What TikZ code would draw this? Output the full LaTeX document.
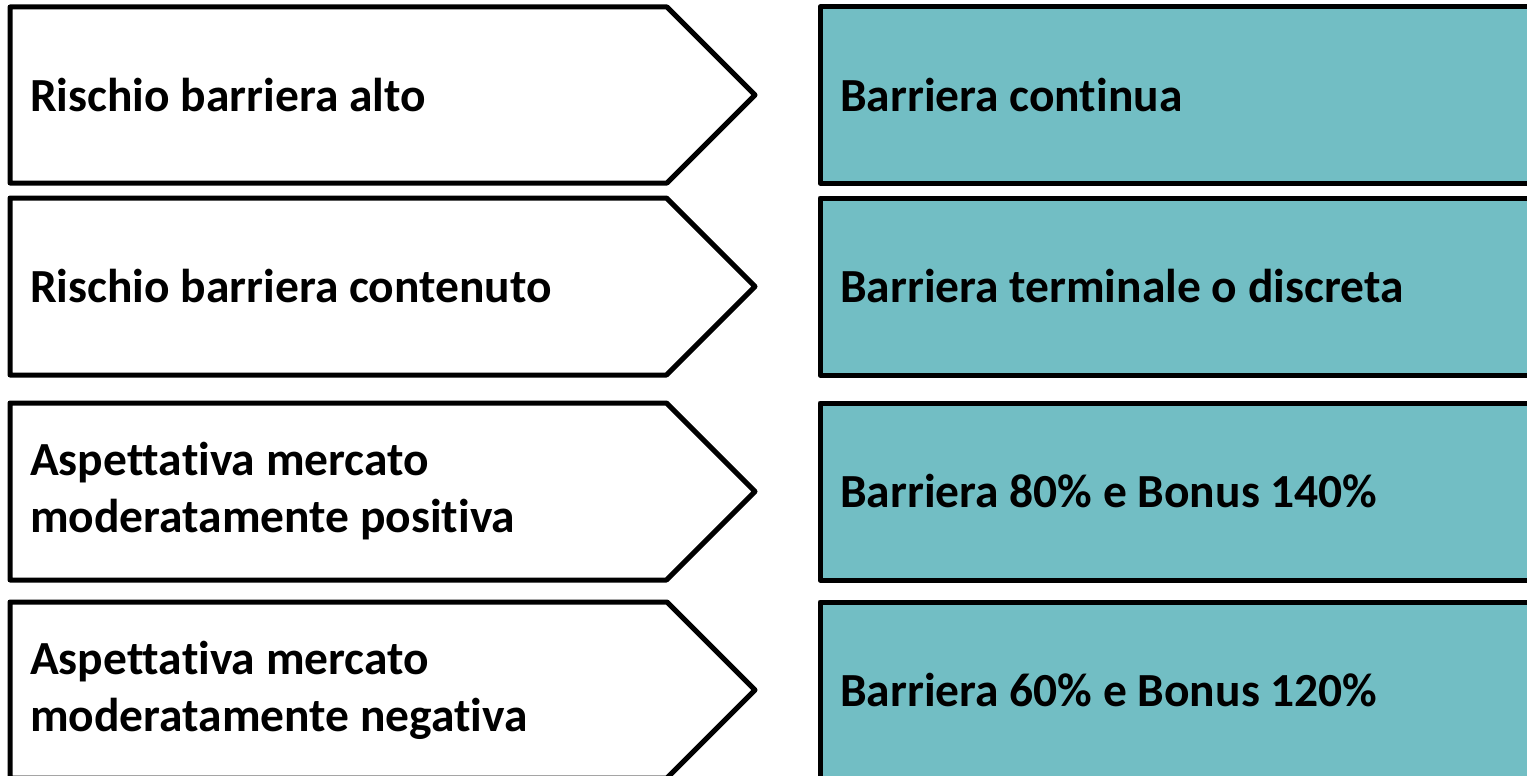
\documentclass[tikz,border=0pt]{standalone}
\usepackage{fontspec}
\setmainfont[Ligatures={NoCommon}]{Carlito}
\definecolor{teal1}{RGB}{114,190,196}
\tikzset{
  arrowbox/.style={draw=black, line width=5pt, line join=round, fill=white},
  resbox/.style={draw=black, line width=5pt, line join=round, fill=teal1},
  lbl/.style={anchor=west, inner sep=0pt, align=left, font=\fontsize{47.5}{57}\selectfont\bfseries}
}
\begin{document}
\begin{tikzpicture}[x=1pt,y=-1pt]
\useasboundingbox (0,0) rectangle (1527,776);
\clip (0,0) rectangle (1527,776);
\foreach \t/\b/\n in {7/183/1,198/375/2,403/580/3,602/778/4}{
  \pgfmathsetmacro{\m}{(\t+\b)/2}
  \pgfmathsetmacro{\k}{755-(\b-\t)/2}
  \draw[arrowbox] (10,\t) -- (\k,\t) -- (755,\m) -- (\k,\b) -- (10,\b) -- cycle;
  \draw[resbox] (820,\t) rectangle (1545,\b);
  \coordinate (L\n) at (30,\m);
  \coordinate (R\n) at (840,\m);
}
\node[lbl] (l1) at (L1) {Rischio barriera alto};
\node[lbl] (l2) at (L2) {Rischio barriera contenuto};
\node[lbl] (l3) at (L3) {Aspettativa mercato\\moderatamente positiva};
\node[lbl] (l4) at (L4) {Aspettativa mercato\\moderatamente negativa};
\node[lbl] (r1) at (R1) {Barriera continua};
\node[lbl] (r2) at (R2) {Barriera terminale o discreta};
\node[lbl] (r3) at (R3) {Barriera 80\% e Bonus 140\%};
\node[lbl] (r4) at (R4) {Barriera 60\% e Bonus 120\%};
\end{tikzpicture}
\end{document}
